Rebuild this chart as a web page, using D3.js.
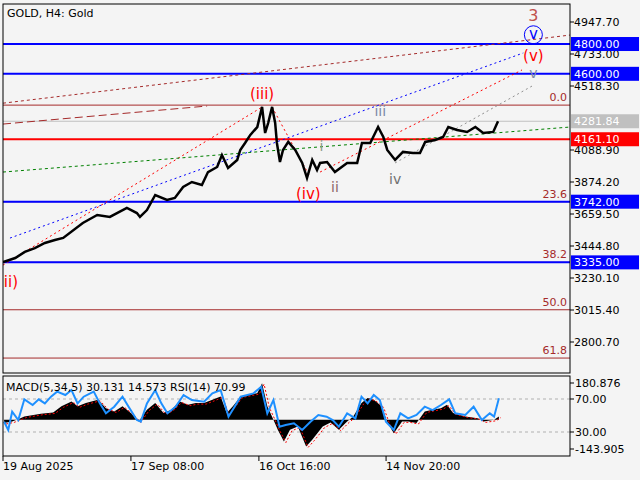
<!DOCTYPE html>
<html><head><meta charset="utf-8">
<script src="https://cdn.jsdelivr.net/npm/d3@7"></script>
<style>body{margin:0;background:#fff}svg{display:block}text{font-family:"DejaVu Sans",sans-serif}</style>
</head><body><svg id="c" width="640" height="480"></svg>
<script>
// ---- data ----
const priceDays = [0,2.8,5,7.3,9.6,11.9,13.8,18.3,21.6,24.5,28.4,30.7,31.4,33,34.9,37.6,39.4,41.3,43.3,45.6,47,49.1,50.2,51.6,53.7,54.4,55.5,56.7,58.3,59.4,60.1,60.8,61.7,62.4,62.8,63.5,64.2,65.4,67,68.6,69.7,70.9,72,72.7,74.3,76.1,78.9,81.2,82.3,84.2,86,87.2,88.1,89.9,91.7,94,95.6,96.8,99.1,100.9,102.1,104.1,106.4,108.3,110.1,112.4,113.5];
const priceClose = [3337,3364,3405,3431,3465,3485,3499,3599,3653,3640,3700,3666,3640,3686,3787,3754,3767,3841,3874,3854,3941,3975,4055,3968,4022,4089,4136,4190,4243,4378,4203,4270,4378,4270,4136,4008,4089,4143,4089,4002,3901,4022,3955,4002,4008,3941,4002,4002,4136,4136,4243,4176,4089,4022,4076,4069,4069,4143,4156,4176,4243,4223,4210,4243,4203,4210,4282];
const levels = [
 {v:4800, color:"#0000ff", label:"4800.00"},
 {v:4600, color:"#0000ff", label:"4600.00"},
 {v:4281.84, color:"#c0c0c0", label:"4281.84"},
 {v:4161.1, color:"#ff0000", label:"4161.10"},
 {v:3742, color:"#0000ff", label:"3742.00"},
 {v:3335, color:"#0000ff", label:"3335.00"}];
const fibLevels = [{v:4390,t:"0.0"},{v:3742,t:"23.6"},{v:3335,t:"38.2"},{v:3017,t:"50.0"},{v:2693,t:"61.8"}];
const priceTicks = [4947.7,4733.0,4518.3,4088.9,3874.2,3659.5,3444.8,3230.1,3015.4,2800.7];
const trendLines = [
 {p:[[0,4403],[130,4860]], c:"#a52a2a", d:"3,3"},
 {p:[[0,4263],[46.8,4384]], c:"#a52a2a", d:"8,4"},
 {p:[[0,3317],[59.4,4377]], c:"#ff0000", d:"2,3"},
 {p:[[61.7,4377],[70.4,3908]], c:"#ff0000", d:"2,3"},
 {p:[[72.7,3941],[119,4626]], c:"#ff0000", d:"2,3"},
 {p:[[1.6,3498],[119.3,4740]], c:"#0000ff", d:"2,3"},
 {p:[[0,3941],[130,4243]], c:"#008000", d:"3,3"},
 {p:[[89.9,4002],[121.3,4518]], c:"#909090", d:"2,3"}];
const waveLabels = [
 {d:59.4,v:4458,t:"(iii)",c:"#ff0000",s:15,a:"middle"},
 {d:70,v:3787,t:"(iv)",c:"#ff0000",s:15,a:"middle"},
 {d:0.2,v:3203,t:"ii)",c:"#ff0000",s:15,a:"start"},
 {d:76.1,v:3834,t:"ii",c:"#8b6464",s:14,a:"middle"},
 {d:73,v:4109,t:"i",c:"#8b9b8b",s:14,a:"middle"},
 {d:86.5,v:4344,t:"iii",c:"#7b8aa8",s:14,a:"middle"},
 {d:89.9,v:3888,t:"iv",c:"#707070",s:14,a:"middle"},
 {d:121.6,v:4600,t:"v",c:"#7b8aa8",s:14,a:"middle"},
 {d:121.6,v:4713,t:"(v)",c:"#ff0000",s:15,a:"middle"},
 {d:121.6,v:4862,t:"v",c:"#0000ff",s:15,a:"middle"},
 {d:121.6,v:4985,t:"3",c:"#c0504d",s:16,a:"middle"}];
const rsiDays = [0.25,1.2,2.1,3.5,4.9,6.8,8.2,9.6,11,12.4,14.3,15.7,17.1,18.5,20.8,22.2,23.6,25.5,27.4,28.8,30.7,31.6,33,34.9,36.3,37.7,39.6,41.4,43.3,46.1,48,49.9,51.7,53.1,54.5,57.4,59.2,60.6,62,63.4,64.8,66.7,68.6,70.5,72.3,74.2,75.6,77,78.9,80.8,82.2,83.6,85,86.4,87.8,89.6,91.1,92.9,94.8,96.7,98.5,100.4,102.3,103.7,106,107.9,109.8,111.6,112.6,113.7];
const rsiValues = [42.5,32.4,54.6,44.5,69.6,62.7,69.6,64.7,72.8,78.9,74.8,80.9,64.7,72.8,78.9,64.7,52.6,60.7,72.8,60.7,44.5,42.5,64.7,80.9,64.7,52.6,60.7,74.8,68.8,66.7,76.8,80.9,48.6,60.7,72.8,76.8,84.9,52.6,68.8,36.4,38.5,40.5,32.4,42.5,50.6,48.6,44.5,36.4,52.6,46.5,72.8,64.7,74.8,68.8,42.5,32.4,52.6,46.5,50.6,60.7,56.6,62.7,69.6,52.6,50.6,60.7,44.5,52.6,48.6,70.8];
const macdDays = [0.25,2.1,4,4.9,8.7,11.5,13.4,15.7,17.1,19,21.8,23.6,25.5,27.4,29.3,31.1,33,34.9,36.8,38.6,40.5,42.4,44.2,46.1,48,49.9,51.3,52.7,54.5,56.4,58.3,59.4,60.6,62,63,64.4,65.8,67.6,69.5,70.9,73.3,75.1,77,78.9,80.3,82.2,83.6,85,86.8,88.2,89.6,91.5,92.9,94.8,96.7,98.5,100.4,101.8,103.2,106,108.8,110.2,112.6,113.7];
const macdValues = [-16,-8,8,16,30,36,66,90,66,82,98,57,41,66,33,-8,49,82,33,49,90,74,82,82,98,115,33,66,115,123,131,180,66,0,-49,-107,-49,-33,-131,-98,-33,-13,-49,-8,16,82,107,98,66,-16,-66,-8,-8,-16,41,49,57,74,33,16,8,-8,0,16];
const timeTicks = [{d:0,t:"19 Aug 2025"},{d:29.33,t:"17 Sep 08:00"},{d:58.67,t:"16 Oct 16:00"},{d:87.83,t:"14 Nov 20:00"}];

// ---- layout ----
const svg = d3.select("#c");
const L=3, R=570, T=4, B=373, IT=376, IB=456;
svg.append("rect").attr("width",640).attr("height",480).attr("fill","#f4f4f4");
const x = d3.scaleLinear().domain([0,130]).range([L,R]);
const y = d3.scaleLinear().domain([3015.4,4947.7]).range([310,22]);
const yr = d3.scaleLinear().domain([30,70]).range([432,399]);
const ym = d3.scaleLinear().domain([-143.905,180.876]).range([449,383]);

svg.append("clipPath").attr("id","cm").append("rect").attr("x",L).attr("y",T).attr("width",R-L).attr("height",B-T);
svg.append("clipPath").attr("id","ci").append("rect").attr("x",L).attr("y",IT).attr("width",R-L).attr("height",IB-IT);
const gm = svg.append("g").attr("clip-path","url(#cm)");

fibLevels.forEach(f=>{
  gm.append("line").attr("x1",L).attr("x2",R).attr("y1",y(f.v)).attr("y2",y(f.v)).attr("stroke","#a52a2a").attr("stroke-width",1);
  gm.append("text").attr("x",R-3).attr("y",y(f.v)-4).attr("text-anchor","end").attr("font-size",11).attr("fill","#a52a2a").text(f.t);
});
levels.forEach(l=>{
  gm.append("line").attr("x1",L).attr("x2",R).attr("y1",y(l.v)).attr("y2",y(l.v)).attr("stroke",l.color).attr("stroke-width",l.color==="#c0c0c0"?1:2);
});
const ln = d3.line().x(d=>x(d[0])).y(d=>y(d[1]));
trendLines.forEach(t=>{
  gm.append("path").attr("d",ln(t.p)).attr("fill","none").attr("stroke",t.c).attr("stroke-width",1).attr("stroke-dasharray",t.d);
});
const pl = d3.line().x((d,i)=>x(priceDays[i])).y(d=>y(d));
gm.append("path").attr("d",pl(priceClose)).attr("fill","none").attr("stroke","#000").attr("stroke-width",2.5);
waveLabels.forEach(w=>{
  gm.append("text").attr("x",x(w.d)).attr("y",y(w.v)).attr("text-anchor",w.a).attr("dominant-baseline","middle").attr("font-size",w.s).attr("fill",w.c).text(w.t);
});
gm.append("circle").attr("cx",x(121.6)).attr("cy",y(4862)).attr("r",9).attr("fill","none").attr("stroke","#0000ff").attr("stroke-width",1);
svg.append("text").attr("x",7).attr("y",17).attr("font-size",11).attr("fill","#000").text("GOLD, H4:  Gold");

// right axis
priceTicks.forEach(p=>{
  svg.append("line").attr("x1",R).attr("x2",R+4).attr("y1",y(p)).attr("y2",y(p)).attr("stroke","#000");
  svg.append("text").attr("x",R+4).attr("y",y(p)+4).attr("font-size",11).text(p.toFixed(2));
});
levels.forEach(l=>{
  svg.append("rect").attr("x",R+1).attr("y",y(l.v)-7).attr("width",68).attr("height",14).attr("fill",l.color);
  svg.append("text").attr("x",R+4).attr("y",y(l.v)+4).attr("font-size",11).attr("fill","#fff").text(l.label);
});

// indicator
const gi = svg.append("g").attr("clip-path","url(#ci)");
[70,30].forEach(v=>gi.append("line").attr("x1",L).attr("x2",R).attr("y1",yr(v)).attr("y2",yr(v)).attr("stroke","#b0b0b0").attr("stroke-dasharray","3,3"));
const ar = d3.area().x((d,i)=>x(macdDays[i])).y0(ym(0)).y1(d=>ym(d));
gi.append("path").attr("d",ar(macdValues)).attr("fill","#000");
const ml = d3.line().x((d,i)=>x(macdDays[i])).y(d=>ym(d));
gi.append("path").attr("d",ml(macdValues)).attr("fill","none").attr("stroke","#ff0000").attr("stroke-dasharray","2,2").attr("transform","translate(2,1)");
const rl = d3.line().x((d,i)=>x(rsiDays[i])).y(d=>yr(d));
gi.append("path").attr("d",rl(rsiValues)).attr("fill","none").attr("stroke","#1e90ff").attr("stroke-width",2);
svg.append("text").attr("x",6).attr("y",391).attr("font-size",11).text("MACD(5,34,5) 30.131 14.573 RSI(14) 70.99");
[[ym(180.876),"180.876"],[yr(70),"70.00"],[yr(30),"30.00"],[ym(-143.905),"-143.905"]].forEach(a=>{
  svg.append("line").attr("x1",R).attr("x2",R+4).attr("y1",a[0]).attr("y2",a[0]).attr("stroke","#000");
  svg.append("text").attr("x",R+5).attr("y",a[0]+4).attr("font-size",11).text(a[1]);
});

svg.append("rect").attr("x",L).attr("y",T).attr("width",R-L).attr("height",B-T).attr("fill","none").attr("stroke","#000");
svg.append("rect").attr("x",L).attr("y",IT).attr("width",R-L).attr("height",IB-IT).attr("fill","none").attr("stroke","#000");
timeTicks.forEach(t=>{
  svg.append("line").attr("x1",x(t.d)).attr("x2",x(t.d)).attr("y1",IB).attr("y2",IB+5).attr("stroke","#000");
  svg.append("text").attr("x",x(t.d)).attr("y",470).attr("font-size",11).text(t.t);
});
</script></body></html>
